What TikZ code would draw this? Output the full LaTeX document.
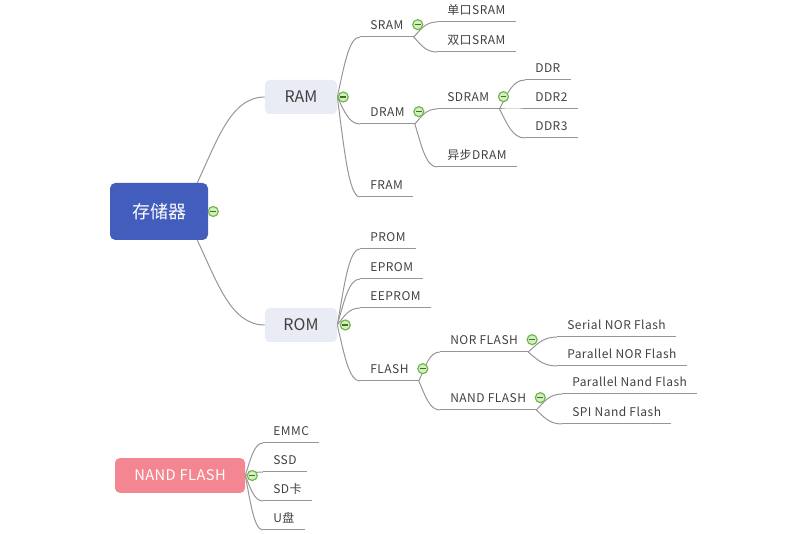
\documentclass[tikz,border=0pt]{standalone}
\usepackage{fontspec}
\setmainfont{Noto Sans CJK SC}
\usetikzlibrary{calc,backgrounds}
\definecolor{rootblue}{RGB}{66,93,187}
\definecolor{mainlav}{RGB}{233,235,245}
\definecolor{nandpink}{RGB}{243,134,144}
\definecolor{linegray}{RGB}{150,150,150}
\definecolor{textgray}{RGB}{64,64,64}
\definecolor{toggreen}{RGB}{112,184,72}
\definecolor{togfill}{RGB}{212,238,196}

\begin{document}
\begin{tikzpicture}[
    x=0.75pt, y=-0.75pt,
    root/.style={rectangle, rounded corners=4pt, fill=rootblue, text=white, font=\fontsize{13.5}{16}\selectfont, minimum width=73.5pt, minimum height=42.75pt},
    main/.style={rectangle, rounded corners=3.5pt, fill=mainlav, text=textgray, font=\fontsize{12}{14}\selectfont, minimum width=54pt, minimum height=25.5pt},
    nandbox/.style={rectangle, rounded corners=3.5pt, fill=nandpink, text=white, font=\fontsize{11}{13}\selectfont\addfontfeatures{LetterSpace=3}, minimum width=97.5pt, minimum height=26pt},
    topic/.style={anchor=south west, font=\fontsize{9}{11}\selectfont\addfontfeatures{LetterSpace=4}, text=textgray, inner xsep=7.5pt, inner ysep=3pt, text height=6.6pt, text depth=2.5pt},
    uline/.style={draw=linegray, line width=0.75pt},
    link/.style={draw=linegray, line width=0.75pt, to path={let \p1=(\tikztostart), \p2=(\tikztotarget) in
        .. controls ({\x1+0.3*(\x2-\x1)},{\y1+0.5*(\y2-\y1)}) and ({\x1+0.5*(\x2-\x1)},\y2) .. (\tikztotarget)}},
    toggle/.style={circle, draw=toggreen, fill=togfill, line width=0.9pt, minimum size=7.5pt, inner sep=0pt,
        path picture={\draw[toggreen!60!black, line width=0.8pt] ([xshift=-2.2pt]path picture bounding box.center) -- ([xshift=2.2pt]path picture bounding box.center);}}
]
    \useasboundingbox (0,0) rectangle (808,534);

    % Main boxes
    \node[root] (root) at (159,211.5) {存储器};
    \node[main] (ram) at (301,97) {RAM};
    \node[main] (rom) at (301,325) {ROM};
    \node[nandbox] (nandfl) at (180,475.5) {NAND FLASH};
    \coordinate (rtop) at ($(root.north east)+(-11,0)$);
    \coordinate (rbot) at ($(root.south east)+(-11,0)$);

    % RAM branch
    \node[topic] (sram) at (360,37) {SRAM};
    \node[topic] (sram1) at (437,22) {单口SRAM};
    \node[topic] (sram2) at (437,52) {双口SRAM};
    \node[topic] (dram) at (360,124) {DRAM};
    \node[topic] (sdram) at (437,109) {SDRAM};
    \node[topic] (ddr) at (525,80) {DDR};
    \node[topic] (ddr2) at (525,109) {DDR2};
    \node[topic] (ddr3) at (525,138) {DDR3};
    \node[topic] (adram) at (437,167) {异步DRAM};
    \node[topic] (fram) at (360,197) {FRAM};

    % ROM branch
    \node[topic] (prom) at (360,249) {PROM};
    \node[topic] (eprom) at (360,279) {EPROM};
    \node[topic] (eeprom) at (360,308) {EEPROM};
    \node[topic] (flash) at (360,381) {FLASH};
    \node[topic] (nor) at (440,352) {NOR FLASH};
    \node[topic] (snor) at (557,337) {Serial NOR Flash};
    \node[topic] (pnor) at (557,366) {Parallel NOR Flash};
    \node[topic] (nand) at (440,410) {NAND FLASH};
    \node[topic] (pnand) at (562,394) {Parallel Nand Flash};
    \node[topic] (snand) at (562,424) {SPI Nand Flash};

    % NAND FLASH products
    \node[topic] (emmc) at (263,443) {EMMC};
    \node[topic] (ssd) at (263,472) {SSD};
    \node[topic] (sdcard) at (263,501) {SD卡};
    \node[topic] (udisk) at (263,530) {U盘};

    \begin{scope}[on background layer]
        \draw[link] (rtop) to (ram.west);
        \draw[link] (rbot) to (rom.west);
        \foreach \c in {sram,dram,fram} \draw[link] (ram.east) to (\c.south west);
        \foreach \c in {sram1,sram2} \draw[link] (sram.south east) to (\c.south west);
        \foreach \c in {sdram,adram} \draw[link] (dram.south east) to (\c.south west);
        \foreach \c in {ddr,ddr2,ddr3} \draw[link] (sdram.south east) to (\c.south west);
        \foreach \c in {prom,eprom,eeprom,flash} \draw[link] (rom.east) to (\c.south west);
        \foreach \c in {nor,nand} \draw[link] (flash.south east) to (\c.south west);
        \foreach \c in {snor,pnor} \draw[link] (nor.south east) to (\c.south west);
        \foreach \c in {pnand,snand} \draw[link] (nand.south east) to (\c.south west);
        \foreach \c in {emmc,ssd,sdcard,udisk} \draw[link] (nandfl.east) to (\c.south west);
    \end{scope}

    % Underlines
    \foreach \n in {sram,sram1,sram2,dram,sdram,ddr,ddr2,ddr3,adram,fram,prom,eprom,eeprom,flash,nor,snor,pnor,nand,pnand,snand,emmc,ssd,sdcard,udisk}
        \draw[uline] (\n.south west) -- (\n.south east);

    % Collapse toggles
    \node[toggle] (troot) at ($(root.east)+(5,0)$) {};
    \node[toggle] (tram) at ($(ram.east)+(6,0)$) {};
    \node[toggle] (trom) at ($(rom.east)+(8,0)$) {};
    \node[toggle] (tnandfl) at ($(nandfl.east)+(7,0)$) {};
    \foreach \n in {sram,dram,sdram,flash,nor,nand}
        \node[toggle] (t\n) at ($(\n.east)+(4,-2)$) {};
\end{tikzpicture}
\end{document}
